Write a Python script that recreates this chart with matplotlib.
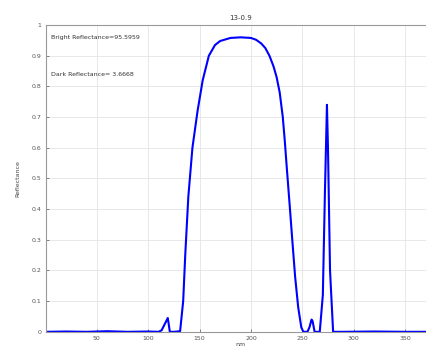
import matplotlib.pyplot as plt

# reflectance curve
wavelength = [0, 20, 40, 60, 80, 100, 110, 113, 116, 119, 121, 125, 131, 134, 136, 139,
              143, 148, 153, 159, 165, 170, 180, 190, 200, 205, 210, 214, 218, 222, 225,
              228, 231, 233, 235, 238, 240, 243, 246, 249, 251, 255, 257, 259, 260, 262,
              264, 267, 270, 272, 274, 275, 277, 280, 290, 320, 350, 380]
reflectance = [0.0, 0.001, 0.0, 0.002, 0.0, 0.001, 0.0, 0.005, 0.025, 0.045, 0.0, 0.0,
               0.002, 0.1, 0.25, 0.44, 0.6, 0.72, 0.82, 0.9, 0.935, 0.948, 0.958, 0.96,
               0.958, 0.952, 0.94, 0.925, 0.9, 0.865, 0.83, 0.78, 0.7, 0.62, 0.53, 0.4,
               0.31, 0.18, 0.08, 0.015, 0.0, 0.0, 0.015, 0.04, 0.035, 0.0, 0.0, 0.0, 0.12,
               0.45, 0.74, 0.6, 0.2, 0.0, 0.0, 0.001, 0.0, 0.0]

xticks = [50, 100, 150, 200, 250, 300, 350]
yticks = [0, 0.1, 0.2, 0.3, 0.4, 0.5, 0.6, 0.7, 0.8, 0.9, 1]
ytick_labels = ["0", "0.1", "0.2", "0.3", "0.4", "0.5", "0.6", "0.7", "0.8", "0.9", "1"]

fig = plt.figure(figsize=(4.26, 3.53), dpi=100)
ax = fig.add_axes([0.107, 0.06, 0.916, 0.869])

ax.plot(wavelength, reflectance, color="#0000ff", linewidth=1.5)

ax.set_xlim(0, 380)
ax.set_ylim(0, 1)
ax.set_xticks(xticks)
ax.set_yticks(yticks)
ax.set_yticklabels(ytick_labels)
ax.tick_params(direction="in", length=2, width=0.5, labelsize=4.5,
               colors="#555555", pad=3)
ax.grid(True, color="#e4e4e4", linewidth=0.6, linestyle="-")

for side in ["left", "top", "bottom", "right"]:
    ax.spines[side].set_color("#999999")
    ax.spines[side].set_linewidth(0.8)

ax.set_title("13-0.9", fontsize=5, color="#333333", pad=4)
ax.set_xlabel("nm", fontsize=4.5, color="#444444", labelpad=1)
ax.set_ylabel("Reflectance", fontsize=4.5, color="#444444", labelpad=8)

ax.text(0.015, 0.96, "Bright Reflectance=95.5959", transform=ax.transAxes,
        fontsize=4.5, color="#333333", va="center")
ax.text(0.015, 0.84, "Dark Reflectance= 3.6668", transform=ax.transAxes,
        fontsize=4.5, color="#333333", va="center")

fig.savefig("out.png", dpi=100)
